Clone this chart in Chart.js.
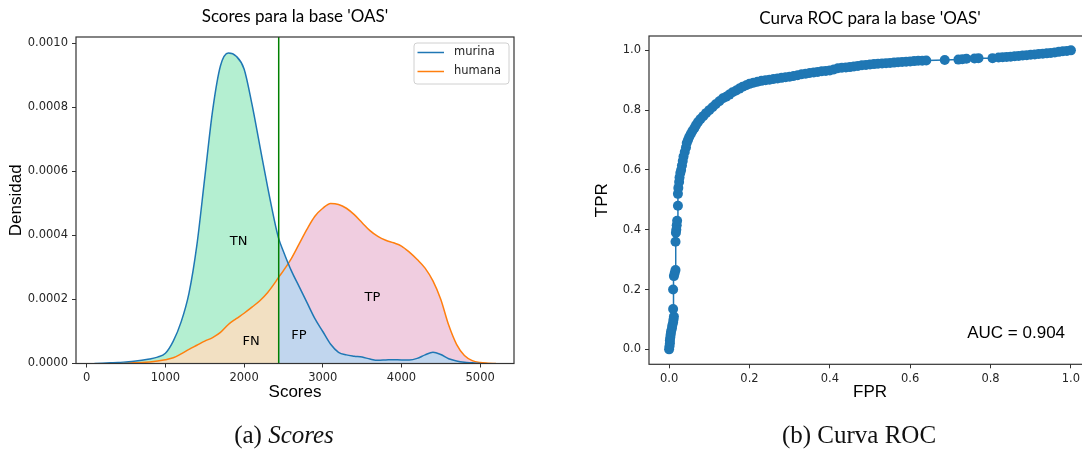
<!DOCTYPE html>
<html>
<head>
<meta charset="utf-8">
<script src="https://cdn.jsdelivr.net/npm/chart.js@4.4.0/dist/chart.umd.min.js"></script>
<style>
html, body { margin: 0; padding: 0; width: 1082px; height: 450px; overflow: hidden; background: #fff; }
.box { position: absolute; top: 0; }
.cap { position: absolute; top: 421px; width: 300px; text-align: center; font-family: 'Liberation Serif', serif; font-size: 25px; color: #111; }
</style>
</head>
<body>
<div class="box" style="left:0"><canvas id="scores" width="540" height="450"></canvas></div>
<div class="box" style="left:540px"><canvas id="roc" width="560" height="450"></canvas></div>
<div class="cap" style="left:134px">(a) <i>Scores</i></div>
<div class="cap" style="left:709px">(b) Curva ROC</div>
<script>
// density curves (kde)
var scores = [100, 200, 300, 400, 500, 600, 700, 800, 900, 1000, 1100, 1200, 1300, 1400, 1500, 1600, 1700, 1800, 1900, 2000,
  2100, 2200, 2300, 2400, 2440, 2500, 2600, 2700, 2800, 2900, 3000, 3100, 3200, 3300, 3400, 3500, 3600, 3700, 3800, 3900,
  4000, 4100, 4200, 4300, 4400, 4500, 4600, 4700, 4800, 4900, 5000, 5100, 5200];
var murina = [0, 0.000001, 0.000002, 0.000003, 0.000005, 0.000007, 0.00001, 0.000014, 0.00002, 0.000032, 0.00007, 0.00013, 0.00022, 0.00037, 0.00058, 0.00079, 0.00093, 0.00097, 0.00096, 0.00092,
  0.00081, 0.00068, 0.00055, 0.00043, 0.00039, 0.00035, 0.00029, 0.00024, 0.00019, 0.00014, 0.0001, 0.00006, 0.000035, 0.000027, 0.000023, 0.00002, 0.000014, 0.00001, 0.000011, 0.000012,
  0.000011, 0.000011, 0.000016, 0.000027, 0.000035, 0.000028, 0.000015, 0.000008, 0.000004, 0.000002, 0, null, null];
var humana = [null, null, null, 0, 0.000001, 0.000002, 0.000003, 0.000005, 0.000008, 0.000012, 0.000018, 0.00003, 0.000044, 0.000057, 0.00007, 0.000081, 0.000097, 0.000122, 0.00014, 0.000157,
  0.000176, 0.000196, 0.000222, 0.000255, 0.00027, 0.00029, 0.000328, 0.000374, 0.00042, 0.00046, 0.000485, 0.0005, 0.000497, 0.000485, 0.000465, 0.00044, 0.000415, 0.000397, 0.000385, 0.000377,
  0.000367, 0.000348, 0.000325, 0.000298, 0.000258, 0.0002, 0.00012, 0.00006, 0.000025, 0.000009, 0.000003, 0.000001, 0];
var threshold = 2440;
var scoreTicks = [0, 1000, 2000, 3000, 4000, 5000];
var densityTicks = [0, 0.0002, 0.0004, 0.0006, 0.0008, 0.001];
var regionNames = ['TN', 'FN', 'FP', 'TP'];
var regionScore = [1931, 2089, 2696, 3632];
var regionDensity = [0.00038, 0.0000675, 0.0000884, 0.000205];

// roc curve points
var rocFpr = [0, 0.001, 0.002, 0.002, 0.003, 0.004, 0.005, 0.007, 0.008, 0.010, 0.011, 0.012,
  0.010, 0.010, 0.012, 0.014, 0.016, 0.016, 0.017, 0.018,
  0.019, 0.020, 0.022, 0.022, 0.023, 0.025, 0.026, 0.028, 0.030, 0.032,
  0.034, 0.036, 0.039, 0.042, 0.044, 0.047, 0.050, 0.054, 0.058, 0.063,
  0.067, 0.072, 0.078, 0.085, 0.092, 0.100, 0.108, 0.116, 0.125, 0.134,
  0.142, 0.150, 0.158, 0.167, 0.175, 0.183, 0.192, 0.200, 0.210, 0.220,
  0.23, 0.24, 0.25, 0.26, 0.27, 0.28, 0.29, 0.30, 0.31, 0.32,
  0.33, 0.34, 0.35, 0.36, 0.37, 0.38, 0.39, 0.40, 0.41, 0.42,
  0.43, 0.44, 0.45, 0.46, 0.47, 0.48, 0.49, 0.50, 0.51, 0.52,
  0.53, 0.54, 0.55, 0.56, 0.57, 0.58, 0.59, 0.60, 0.61, 0.62, 0.63, 0.64,
  0.686, 0.72, 0.73, 0.74, 0.76, 0.77, 0.805, 0.82, 0.83, 0.84,
  0.85, 0.86, 0.87, 0.88, 0.89, 0.90, 0.91, 0.92, 0.93, 0.94, 0.95, 0.96, 0.97, 0.98, 0.99, 1.0];
var rocTpr = [0, 0.01, 0.02, 0.03, 0.04, 0.05, 0.06, 0.07, 0.08, 0.09, 0.10, 0.11,
  0.135, 0.20, 0.245, 0.255, 0.265, 0.36, 0.39, 0.40,
  0.415, 0.43, 0.48, 0.52, 0.54, 0.56, 0.575, 0.59, 0.60, 0.615,
  0.63, 0.645, 0.66, 0.675, 0.69, 0.70, 0.71, 0.72, 0.73, 0.74,
  0.75, 0.76, 0.77, 0.78, 0.79, 0.80, 0.81, 0.82, 0.83, 0.84,
  0.845, 0.852, 0.86, 0.866, 0.872, 0.878, 0.883, 0.888, 0.892, 0.895,
  0.898, 0.90, 0.902, 0.904, 0.906, 0.908, 0.91, 0.912, 0.914, 0.917,
  0.92, 0.922, 0.924, 0.926, 0.928, 0.93, 0.931, 0.933, 0.936, 0.94,
  0.942, 0.943, 0.944, 0.946, 0.948, 0.95, 0.951, 0.953, 0.954, 0.955,
  0.956, 0.957, 0.958, 0.959, 0.96, 0.961, 0.962, 0.963, 0.964, 0.965, 0.965, 0.966,
  0.968, 0.969, 0.97, 0.972, 0.973, 0.974, 0.974, 0.976, 0.977, 0.978,
  0.979, 0.98, 0.981, 0.983, 0.984, 0.985, 0.986, 0.988, 0.989, 0.99, 0.991, 0.993, 0.995, 0.997, 0.998, 1.0];
var rateTicks = [0, 0.2, 0.4, 0.6, 0.8, 1.0];
var auc = 0.904;

var blue = '#1f77b4', orange = '#ff7f0e';
var tickFont = { family: 'DejaVu Sans', size: 11.5 };
var labelFont = { family: 'Liberation Sans', size: 17 };

function part(vals, keep) {
  return scores.map(function (s, i) {
    return { x: s, y: keep(s) ? vals[i] : null };
  });
}
function fillSet(vals, keep, color, order) {
  return { data: part(vals, keep), backgroundColor: color, borderWidth: 0, pointRadius: 0, fill: 'origin', order: order, cubicInterpolationMode: 'monotone' };
}
function axis(ticks, min, max, digits, title, titlePad, fitSize) {
  return {
    type: 'linear', min: min, max: max,
    afterBuildTicks: function (s) { s.ticks = ticks.map(function (v) { return { value: v }; }); },
    afterFit: function (s) { if (s.isHorizontal()) s.height = fitSize; else s.width = fitSize; },
    ticks: { font: tickFont, color: '#262626', padding: 4, maxRotation: 0, autoSkip: false,
      callback: function (v) { return Number(v).toFixed(digits); } },
    grid: { drawOnChartArea: false, drawTicks: true, tickLength: 4, tickColor: '#333', tickWidth: 1 },
    border: { display: false },
    title: { display: true, text: title, font: labelFont, color: '#000', padding: titlePad }
  };
}
function frame(ctx, a) {
  ctx.strokeStyle = '#333';
  ctx.lineWidth = 1.2;
  ctx.strokeRect(a.left, a.top, a.right - a.left, a.bottom - a.top);
}

var scoresText = {
  id: 'scoresText',
  afterDraw: function (chart) {
    var ctx = chart.ctx, a = chart.chartArea, sx = chart.scales.x, sy = chart.scales.y;
    ctx.save();
    frame(ctx, a);
    ctx.fillStyle = '#000';
    ctx.textAlign = 'center';
    ctx.textBaseline = 'middle';
    ctx.font = '17px Lato';
    ctx.fillText("Scores para la base 'OAS'", (a.left + a.right) / 2, 17);
    ctx.font = '13px "DejaVu Sans"';
    regionNames.forEach(function (n, i) {
      ctx.fillText(n, sx.getPixelForValue(regionScore[i]), sy.getPixelForValue(regionDensity[i]));
    });
    // legend box, upper right
    var lx = a.right - 100, ly = a.top + 6, lw = 95, lh = 41;
    ctx.beginPath();
    ctx.roundRect(lx, ly, lw, lh, 3);
    ctx.fillStyle = 'rgba(255,255,255,0.8)';
    ctx.fill();
    ctx.strokeStyle = '#d0d0d0';
    ctx.lineWidth = 1;
    ctx.stroke();
    [['murina', blue], ['humana', orange]].forEach(function (e, i) {
      var yy = ly + 9.5 + i * 19;
      ctx.strokeStyle = e[1];
      ctx.lineWidth = 1.5;
      ctx.beginPath();
      ctx.moveTo(lx + 3.5, yy);
      ctx.lineTo(lx + 30, yy);
      ctx.stroke();
      ctx.fillStyle = '#222';
      ctx.textAlign = 'left';
      ctx.font = '11.5px "DejaVu Sans"';
      ctx.fillText(e[0], lx + 40, yy);
    });
    ctx.restore();
  }
};

var rocText = {
  id: 'rocText',
  afterDraw: function (chart) {
    var ctx = chart.ctx, a = chart.chartArea, sx = chart.scales.x, sy = chart.scales.y;
    ctx.save();
    frame(ctx, a);
    ctx.fillStyle = '#000';
    ctx.textAlign = 'center';
    ctx.textBaseline = 'middle';
    ctx.font = '17px Lato';
    ctx.fillText("Curva ROC para la base 'OAS'", (a.left + a.right) / 2, 19);
    ctx.textAlign = 'left';
    ctx.font = '17px "Liberation Sans"';
    ctx.fillText('AUC = ' + auc.toFixed(3), sx.getPixelForValue(0.742), sy.getPixelForValue(0.054));
    ctx.restore();
  }
};

new Chart(document.getElementById('scores'), {
  type: 'line',
  data: {
    datasets: [
      { data: [{ x: threshold, y: 0 }, { x: threshold, y: 0.00102 }], borderColor: '#008000', borderWidth: 1.5, pointRadius: 0, order: 0 },
      { data: part(murina, function () { return true; }), borderColor: blue, borderWidth: 1.5, pointRadius: 0, order: 1, cubicInterpolationMode: 'monotone' },
      { data: part(humana, function () { return true; }), borderColor: orange, borderWidth: 1.5, pointRadius: 0, order: 1, cubicInterpolationMode: 'monotone' },
      fillSet(humana, function (s) { return s <= threshold; }, '#f2e0c2', 3),
      fillSet(murina, function (s) { return s >= threshold; }, '#c1d6ee', 3),
      fillSet(murina, function (s) { return s <= threshold; }, '#b4efd1', 4),
      fillSet(humana, function (s) { return s >= threshold; }, '#f0cde0', 4)
    ]
  },
  options: {
    responsive: false,
    animation: false,
    layout: { padding: { top: 37, right: 26, left: 0, bottom: 0 } },
    plugins: { legend: { display: false }, tooltip: { enabled: false } },
    scales: {
      x: axis(scoreTicks, -136, 5430, 0, 'Scores', { top: 0, bottom: 47 }, 86.5),
      y: axis(densityTicks, 0, 0.00102, 4, 'Densidad', { top: 6, bottom: 0 }, 76)
    }
  },
  plugins: [scoresText]
});

new Chart(document.getElementById('roc'), {
  type: 'scatter',
  data: {
    datasets: [{
      data: rocFpr.map(function (f, i) { return { x: f, y: rocTpr[i] }; }),
      showLine: true, borderColor: blue, borderWidth: 1.5,
      pointRadius: 5, pointBackgroundColor: blue, pointBorderWidth: 0
    }]
  },
  options: {
    responsive: false,
    animation: false,
    layout: { padding: { top: 36, right: 9, left: 0, bottom: 0 } },
    plugins: { legend: { display: false }, tooltip: { enabled: false } },
    scales: {
      x: axis(rateTicks, -0.05, 1.05, 1, 'FPR', { top: 0, bottom: 47 }, 85.7),
      y: axis(rateTicks, -0.05, 1.048, 1, 'TPR', { top: 52, bottom: 0 }, 109)
    }
  },
  plugins: [rocText]
});
</script>
</body>
</html>
